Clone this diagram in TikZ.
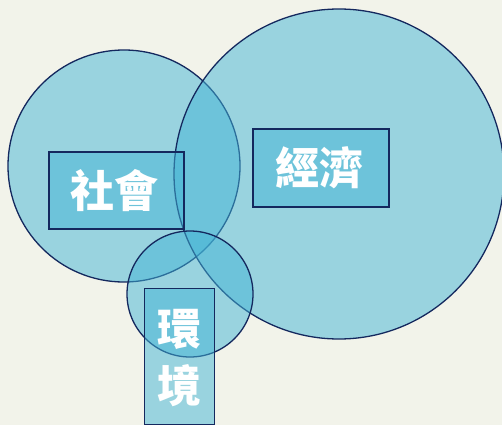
\documentclass[tikz,border=0pt]{standalone}
\usepackage{fontspec}
\newfontfamily\cjk{Noto Sans CJK TC}
\usetikzlibrary{positioning}

\definecolor{paper}{HTML}{F2F3EA}
\definecolor{sea}{HTML}{42B4D6}
\definecolor{navy}{HTML}{14285E}

\tikzset{
  ring/.style={circle, draw=navy, line width=1.3pt, fill=sea, fill opacity=0.5, draw opacity=1, inner sep=0pt},
  tag/.style={draw=navy, line width=1.3pt, fill=sea, fill opacity=0.5, draw opacity=1, inner sep=0pt},
  word/.style={text=white, font=\cjk\bfseries\fontsize{44}{57}\selectfont, align=center, text opacity=1, inner sep=0pt}
}

\begin{document}
\begin{tikzpicture}[x=1pt, y=-1pt]
  \fill[paper] (0,0) rectangle (502,425);
  \useasboundingbox (0,0) rectangle (502,425);

  % circles
  \node[ring, minimum size=232pt] (society) at (124,166) {};
  \node[ring, minimum size=330pt] (economy) at (339,174) {};
  \node[ring, minimum size=126pt] (environment) at (190,294) {};

  % boxes
  \node[tag, minimum width=135pt, minimum height=77pt] (societybox) at (116.5,190.5) {};
  \node[tag, minimum width=136pt, minimum height=78pt] (economybox) at (321,168) {};
  \node[tag, minimum width=70pt, minimum height=136pt, anchor=north] (environmentbox) at (179.5,288) {};

  % labels
  \node[word] (societytext) at ([xshift=-2pt]societybox.center) {社會};
  \node[word] (economytext) at ([xshift=-2pt]economybox.center) {經濟};
  \node[word] (environmenttext) at ([yshift=-1pt]environmentbox.center) {環\\境};
\end{tikzpicture}
\end{document}
